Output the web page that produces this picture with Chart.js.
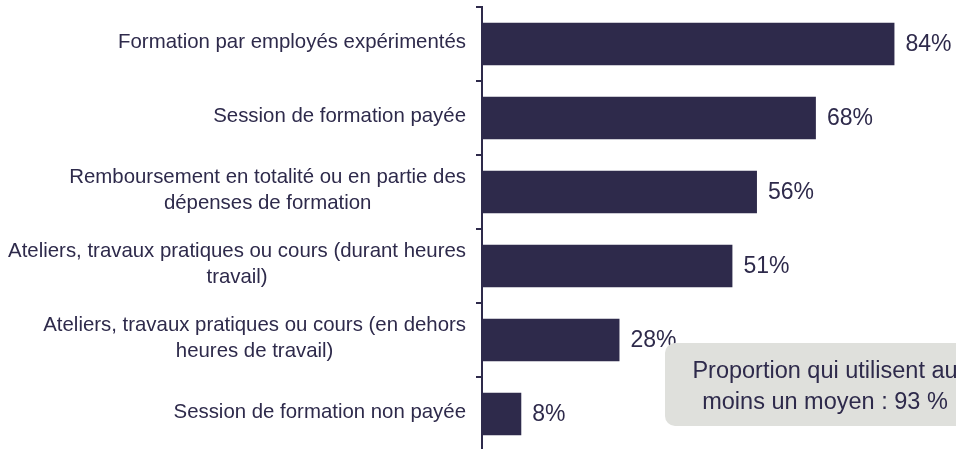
<!DOCTYPE html>
<html lang="fr">
<head>
    <meta charset="UTF-8">
    <title>Moyens de formation</title>
    <script src="https://cdn.jsdelivr.net/npm/chart.js"></script>
    <style>
        html, body {
            margin: 0;
            padding: 0;
            overflow: hidden;
            background: #ffffff;
        }
        #chartContainer {
            position: relative;
            width: 973px;
            height: 451px;
        }
    </style>
</head>
<body>
    <div id="chartContainer">
        <canvas id="trainingChart"></canvas>
    </div>

    <script>
        const categories = [
            ['Formation par employés expérimentés'],
            ['Session de formation payée'],
            ['Remboursement en totalité ou en partie des', 'dépenses de formation'],
            ['Ateliers, travaux pratiques ou cours (durant heures', 'travail)'],
            ['Ateliers, travaux pratiques ou cours (en dehors', 'heures de travail)'],
            ['Session de formation non payée']
        ];
        const percentages = [84, 68, 56, 51, 28, 8];
        const calloutLines = ['Proportion qui utilisent au', 'moins un moyen : 93 %'];

        const navy = '#2e2a4b';
        const fontFamily = '"Liberation Sans", Arial, Helvetica, sans-serif';

        // category labels: block right-aligned, lines centred within the block
        const categoryLabels = {
            id: 'categoryLabels',
            afterDraw(chart) {
                const ctx = chart.ctx;
                const yScale = chart.scales.y;
                const rightEdge = 466;
                const lineHeight = 26;
                ctx.save();
                ctx.font = '20.4px ' + fontFamily;
                ctx.fillStyle = navy;
                ctx.textBaseline = 'middle';
                ctx.textAlign = 'center';
                categories.forEach((lines, i) => {
                    const cy = yScale.getPixelForValue(i) - 2;
                    const widest = Math.max(...lines.map(l => ctx.measureText(l).width));
                    const cx = rightEdge - widest / 2;
                    const startY = cy - (lines.length - 1) * lineHeight / 2;
                    lines.forEach((line, j) => {
                        ctx.fillText(line, cx, startY + j * lineHeight);
                    });
                });
                ctx.restore();
            }
        };

        // value labels to the right of the bars
        const valueLabels = {
            id: 'valueLabels',
            afterDatasetsDraw(chart) {
                const ctx = chart.ctx;
                const meta = chart.getDatasetMeta(0);
                ctx.save();
                ctx.font = '23px ' + fontFamily;
                ctx.fillStyle = navy;
                ctx.textBaseline = 'middle';
                ctx.textAlign = 'left';
                meta.data.forEach((bar, i) => {
                    ctx.fillText(percentages[i] + '%', bar.x + 11, bar.y + 1);
                });
                ctx.restore();
            }
        };

        // grey callout box in the lower right
        const callout = {
            id: 'callout',
            afterDraw(chart) {
                const ctx = chart.ctx;
                ctx.save();
                ctx.fillStyle = '#dfe0dc';
                ctx.beginPath();
                ctx.roundRect(665, 343, 320, 83, 10);
                ctx.fill();
                ctx.font = '23.5px ' + fontFamily;
                ctx.fillStyle = navy;
                ctx.textAlign = 'center';
                ctx.textBaseline = 'middle';
                ctx.fillText(calloutLines[0], 825, 372);
                ctx.fillText(calloutLines[1], 825, 403);
                ctx.restore();
            }
        };

        const ctx = document.getElementById('trainingChart').getContext('2d');
        const chart = new Chart(ctx, {
            type: 'bar',
            data: {
                labels: categories,
                datasets: [{
                    data: percentages,
                    backgroundColor: navy,
                    borderWidth: 0,
                    categoryPercentage: 1,
                    barPercentage: 0.575
                }]
            },
            options: {
                indexAxis: 'y',
                responsive: true,
                maintainAspectRatio: false,
                animation: false,
                layout: {
                    padding: { top: 7, bottom: 0, left: 0, right: 0 }
                },
                plugins: {
                    legend: { display: false },
                    tooltip: { enabled: false }
                },
                scales: {
                    x: {
                        display: false,
                        min: 0,
                        max: 100
                    },
                    y: {
                        afterFit(scale) {
                            scale.width = 482;
                        },
                        border: {
                            display: true,
                            color: navy,
                            width: 2
                        },
                        grid: {
                            drawOnChartArea: false,
                            drawTicks: true,
                            tickLength: 6,
                            color: navy,
                            lineWidth: 2
                        },
                        ticks: {
                            display: false
                        }
                    }
                }
            },
            plugins: [categoryLabels, valueLabels, callout]
        });
    </script>
</body>
</html>
